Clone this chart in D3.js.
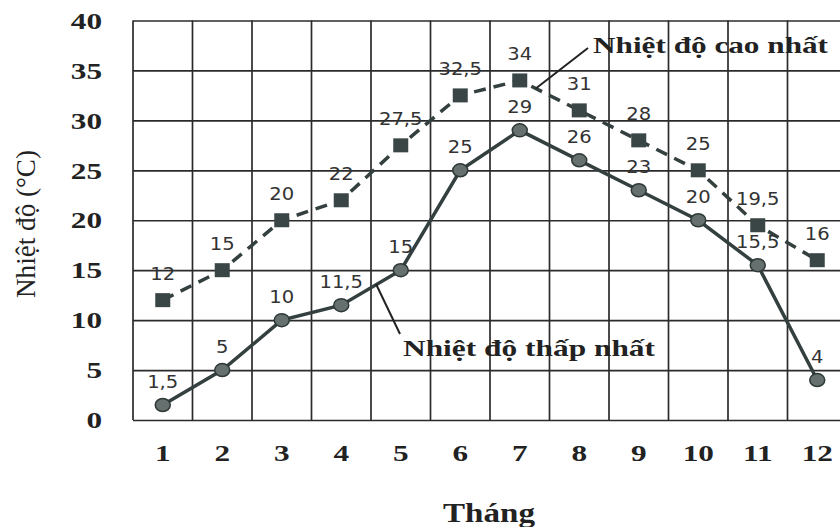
<!DOCTYPE html>
<html><head><meta charset="utf-8">
<script src="https://cdn.jsdelivr.net/npm/d3@7"></script>
<style>body{margin:0;background:#fff}svg{display:block}</style>
</head><body>
<svg id="c" width="840" height="527"></svg>
<script>
const months = ["1","2","3","4","5","6","7","8","9","10","11","12"];
const maxTemp = [12, 15, 20, 22, 27.5, 32.5, 34, 31, 28, 25, 19.5, 16];
const minTemp = [1.5, 5, 10, 11.5, 15, 25, 29, 26, 23, 20, 15.5, 4];
const yTicks = [0, 5, 10, 15, 20, 25, 30, 35, 40];
const seriesNames = ["Nhiệt độ cao nhất", "Nhiệt độ thấp nhất"];
const xTitle = "Tháng";
const yTitle = "Nhiệt độ (°C)";

const svg = d3.select("#c");
const plotLeft = 133, bw = 59.5, plotTop = 20.5, plotBottom = 420;
const x = d3.scaleBand().domain(months).range([plotLeft, plotLeft + bw * months.length]).padding(0);
const y = d3.scaleLinear().domain([0, 40]).range([plotBottom, plotTop]);
const cx = d => x(d) + x.bandwidth() / 2;
const fmt = v => String(v).replace(".", ",");
const STRETCH = 1.3;
function stretch(sel, f) {
  sel.each(function () {
    const len = this.getComputedTextLength();
    d3.select(this).attr("textLength", len * f).attr("lengthAdjust", "spacingAndGlyphs");
  });
}
function fitTo(sel, w) {
  sel.attr("textLength", w).attr("lengthAdjust", "spacingAndGlyphs");
}
const gridColor = "#2b2b2b";
const lineColor = "#34403f";
const serif = "Liberation Serif, 'Times New Roman', serif";

// horizontal grid + y labels via axis
const yAxis = svg.append("g").attr("transform", `translate(${plotLeft},0)`)
  .call(d3.axisLeft(y).tickValues(yTicks).tickSize(-(840 - plotLeft + 20)).tickPadding(31));
yAxis.select(".domain").remove();
yAxis.selectAll(".tick line").attr("stroke", gridColor).attr("stroke-width", 1.7);
yAxis.selectAll(".tick text").attr("font-family", serif).attr("font-weight", "bold")
  .attr("font-size", 24).attr("fill", "#222").call(stretch, STRETCH);

// vertical grid
const edges = months.map(m => x(m)).concat([x(months[months.length - 1]) + x.bandwidth()]);
svg.append("g").selectAll("line").data(edges).join("line")
  .attr("x1", d => d).attr("x2", d => d).attr("y1", plotTop).attr("y2", plotBottom)
  .attr("stroke", gridColor).attr("stroke-width", 1.7);

// x labels via axis
const xAxis = svg.append("g").attr("transform", `translate(0,${plotBottom})`)
  .call(d3.axisBottom(x).tickSize(0).tickPadding(24));
xAxis.select(".domain").remove();
xAxis.selectAll(".tick text").attr("font-family", serif).attr("font-weight", "bold")
  .attr("font-size", 24).attr("fill", "#222").call(stretch, STRETCH);

// titles
svg.append("text").attr("x", 489).attr("y", 522).attr("text-anchor", "middle")
  .attr("font-family", serif).attr("font-weight", "bold").attr("font-size", 28)
  .attr("fill", "#222").text(xTitle).call(fitTo, 92);
svg.append("text").attr("transform", "translate(35,224) rotate(-90)").attr("text-anchor", "middle")
  .attr("font-family", serif).attr("font-size", 27)
  .attr("fill", "#222").text(yTitle).call(fitTo, 148);

// max line (dashed, squares)
const line = d3.line().x((d, i) => cx(months[i])).y(d => y(d));
svg.append("path").datum(maxTemp).attr("d", line).attr("fill", "none")
  .attr("stroke", lineColor).attr("stroke-width", 3.5).attr("stroke-dasharray", "12,8");
svg.append("g").selectAll("rect").data(maxTemp).join("rect")
  .attr("x", (d, i) => cx(months[i]) - 7.5).attr("y", d => y(d) - 7)
  .attr("width", 15).attr("height", 14).attr("fill", "#3a4645");

// min line (solid, circles)
svg.append("path").datum(minTemp).attr("d", line).attr("fill", "none")
  .attr("stroke", lineColor).attr("stroke-width", 3.5);
svg.append("g").selectAll("ellipse").data(minTemp).join("ellipse")
  .attr("cx", (d, i) => cx(months[i])).attr("cy", d => y(d)).attr("rx", 7.5).attr("ry", 6.5)
  .attr("fill", "#66716f").attr("stroke", "#2d3837").attr("stroke-width", 1.5);

// data labels
function labels(data, dy) {
  svg.append("g").selectAll("text").data(data).join("text")
    .attr("x", (d, i) => cx(months[i])).attr("y", d => y(d) + dy)
    .attr("text-anchor", "middle").attr("font-family", "DejaVu Sans, sans-serif")
    .attr("font-size", 17).attr("fill", "#333").text(d => fmt(d)).call(stretch, 1.15);
}
labels(maxTemp, -20);
labels(minTemp, -17);

// annotations
svg.append("line").attr("x1", cx("7") + 16).attr("y1", y(34) + 8).attr("x2", 588).attr("y2", 48)
  .attr("stroke", "#222").attr("stroke-width", 2);
svg.append("text").attr("x", 593).attr("y", 53).attr("font-family", serif)
  .attr("font-weight", "bold").attr("font-size", 23).attr("fill", "#222").text(seriesNames[0]).call(fitTo, 235);
svg.append("line").attr("x1", 376).attr("y1", 284).attr("x2", 400).attr("y2", 334)
  .attr("stroke", "#222").attr("stroke-width", 2);
svg.append("text").attr("x", 403).attr("y", 356).attr("font-family", serif)
  .attr("font-weight", "bold").attr("font-size", 23).attr("fill", "#222").text(seriesNames[1]).call(fitTo, 252);
</script>
</body></html>
